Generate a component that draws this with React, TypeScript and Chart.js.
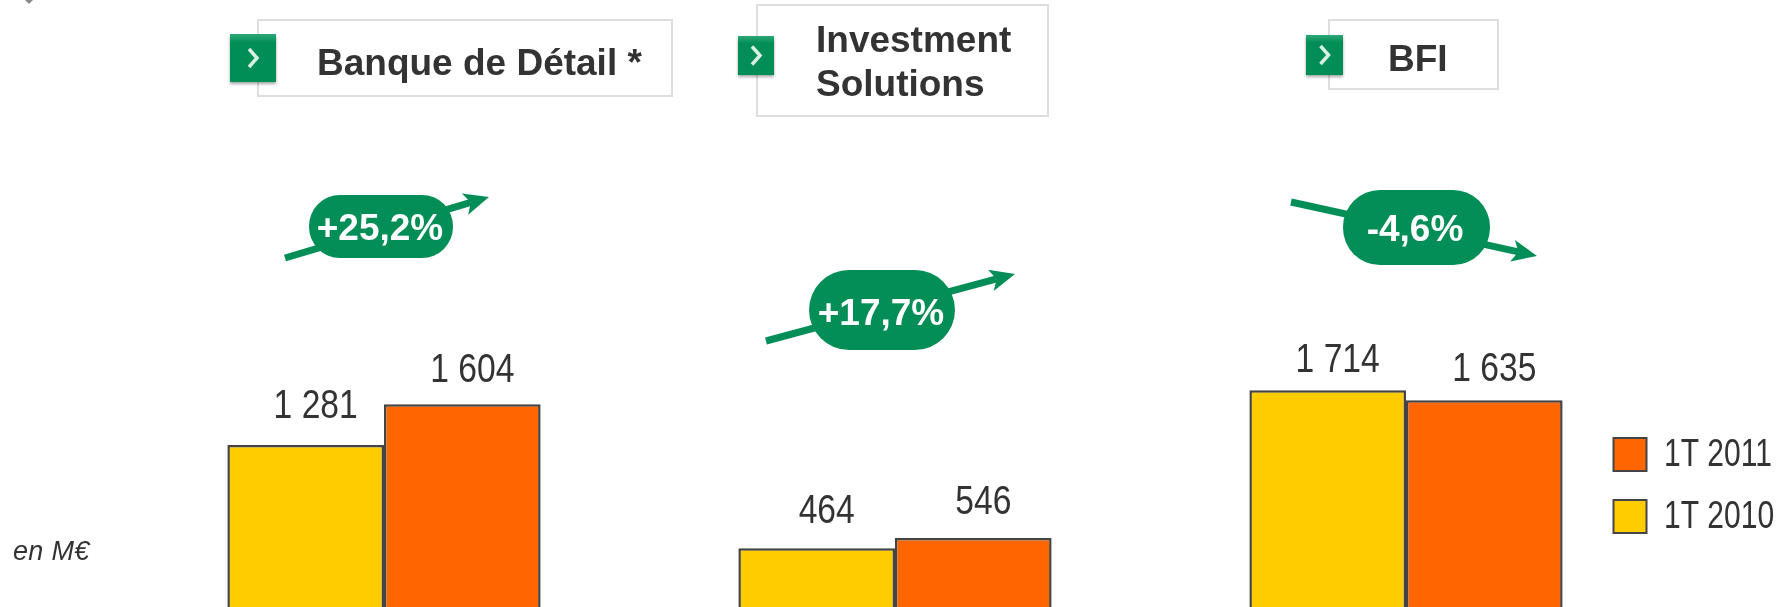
import React, { useEffect, useRef } from "react";
import { Chart, registerables } from "chart.js";

Chart.register(...registerables);

const categories = ["Banque de Détail *", "Investment Solutions", "BFI"];
const headerLines = [["Banque de Détail *"], ["Investment", "Solutions"], ["BFI"]];
const seriesNames = ["1T 2010", "1T 2011"];
const values2010 = [1281, 464, 1714];
const values2011 = [1604, 546, 1635];
const changes = ["+25,2%", "+17,7%", "-4,6%"];
const unitLabel = "en M€";

const W = 1789;
const H = 607;
const GREEN = "#038e57";
const INK = "#333333";
const SANS = '"Liberation Sans", Arial, sans-serif';

// label gap above each bar, by series then category
const labelGaps = [[27, 25, 18], [22, 24, 19]];

const headerLayout = [
  { box: [258, 20, 414, 76], sq: [230, 34, 46, 48], textX: 317, baselines: [75] },
  { box: [757, 5, 291, 111], sq: [738, 36, 36, 39], textX: 816, baselines: [52, 96] },
  { box: [1329, 20, 169, 69], sq: [1306, 35, 37, 40], textX: 1388, baselines: [71] },
];
const pillLayout = [
  { rect: [309, 195, 144, 63], r: 31, textX: 380, baseline: 240, arrow: [285, 258, 489, 197] },
  { rect: [809, 270, 146, 80], r: 40, textX: 881, baseline: 325, arrow: [766, 341, 1015, 274] },
  { rect: [1343, 190, 147, 75], r: 37, textX: 1415, baseline: 241, arrow: [1291, 202, 1537, 256] },
];
const legendLayout = { boxX: 1613.5, boxSize: 33, textX: 1664, rowTops: [438, 500], font: 38 };

function condensedText(ctx: any, txt: string, x: number, y: number, align: "left" | "center", factor: number) {
  ctx.save();
  ctx.translate(x, y);
  ctx.scale(factor, 1);
  ctx.textAlign = align;
  ctx.textBaseline = "alphabetic";
  ctx.fillText(txt, 0, 0);
  ctx.restore();
}

const valueLabels = {
  id: "valueLabels",
  afterDatasetsDraw(chart: any) {
    const { ctx } = chart;
    ctx.save();
    ctx.font = `41px ${SANS}`;
    ctx.fillStyle = INK;
    chart.data.datasets.forEach((ds: any, di: number) => {
      chart.getDatasetMeta(di).data.forEach((bar: any, i: number) => {
        const txt = String(ds.data[i]).replace(/(\d)(\d{3})$/, "$1 $2");
        condensedText(ctx, txt, bar.x + 10, bar.y - labelGaps[di][i], "center", 0.82);
      });
    });
    ctx.restore();
  },
};

// Legend keys read their names and colours from the chart's datasets, newest first.
const sideLegend = {
  id: "sideLegend",
  afterDraw(chart: any) {
    const { ctx } = chart;
    const { boxX, boxSize, textX, rowTops, font } = legendLayout;
    const items = [...chart.data.datasets].reverse();
    ctx.save();
    items.forEach((ds: any, i: number) => {
      const top = rowTops[i];
      ctx.fillStyle = ds.backgroundColor;
      ctx.strokeStyle = ds.borderColor;
      ctx.lineWidth = 2;
      ctx.fillRect(boxX, top, boxSize, boxSize);
      ctx.strokeRect(boxX, top, boxSize, boxSize);
      ctx.fillStyle = INK;
      ctx.font = `${font}px ${SANS}`;
      condensedText(ctx, ds.label, textX, top + 28, "left", 0.79);
    });
    ctx.restore();
  },
};

function Arrow({ a }: { a: number[] }) {
  const [x1, y1, x2, y2] = a;
  const len = Math.hypot(x2 - x1, y2 - y1);
  const ux = (x2 - x1) / len;
  const uy = (y2 - y1) / len;
  const hl = 25;
  const hw = 11;
  const bx = x2 - ux * hl;
  const by = y2 - uy * hl;
  const nx = -uy;
  const ny = ux;
  return (
    <g>
      <line x1={x1} y1={y1} x2={bx + ux * 6} y2={by + uy * 6} stroke={GREEN} strokeWidth={7} />
      <polygon
        points={`${x2},${y2} ${bx + nx * hw},${by + ny * hw} ${bx + ux * 6},${by + uy * 6} ${bx - nx * hw},${by - ny * hw}`}
        fill={GREEN}
      />
    </g>
  );
}

export default function App() {
  const ref = useRef<HTMLCanvasElement>(null);

  useEffect(() => {
    const chart = new Chart(ref.current as HTMLCanvasElement, {
      type: "bar",
      data: {
        labels: categories,
        datasets: [
          {
            label: seriesNames[0],
            data: values2010,
            backgroundColor: "#ffcc00",
            borderColor: "#444444",
            borderWidth: 2.5,
          },
          {
            label: seriesNames[1],
            data: values2011,
            backgroundColor: "#ff6600",
            borderColor: "#444444",
            borderWidth: 2.5,
          },
        ],
      },
      options: {
        animation: false,
        responsive: false,
        devicePixelRatio: 1,
        layout: { padding: { left: 128.5, right: 127.5, top: 0, bottom: 0 } },
        datasets: { bar: { categoryPercentage: 0.613, barPercentage: 1 } },
        scales: {
          x: { display: false },
          y: { display: false, min: 0, max: 4802 },
        },
        plugins: {
          tooltip: { enabled: false },
          title: { display: false },
          legend: { display: false },
        },
      },
      plugins: [valueLabels, sideLegend],
    } as any);
    return () => chart.destroy();
  }, []);

  return (
    <div style={{ position: "absolute", left: 0, top: 0, width: W, height: H, background: "#fff", overflow: "hidden" }}>
      <canvas ref={ref} width={W} height={H} style={{ position: "absolute", left: 0, top: 0 }} />
      <svg width={W} height={H} style={{ position: "absolute", left: 0, top: 0 }}>
        <defs>
          <linearGradient id="sq" x1="0" y1="0" x2="0" y2="1">
            <stop offset="0" stopColor="#2fa877" />
            <stop offset="0.18" stopColor={GREEN} />
            <stop offset="1" stopColor={GREEN} />
          </linearGradient>
          <filter id="soft" x="-20%" y="-20%" width="140%" height="140%">
            <feDropShadow dx="0" dy="2" stdDeviation="1.5" floodColor="#000" floodOpacity="0.35" />
          </filter>
        </defs>
        <polygon points="25,0 33,0 29,4" fill="#8a8a8a" />
        {headerLayout.map((h, i) => {
          const [bx, by, bw, bh] = h.box;
          const [sx, sy, sw, sh] = h.sq;
          const cx = sx + sw / 2;
          const cy = sy + sh / 2;
          return (
            <g key={categories[i]}>
              <rect x={bx} y={by} width={bw} height={bh} fill="#fff" stroke="#dedede" strokeWidth={2} />
              <rect x={sx} y={sy} width={sw} height={sh} fill="url(#sq)" filter="url(#soft)" />
              <polyline
                points={`${cx - 4},${cy - 9} ${cx + 4},${cy} ${cx - 4},${cy + 9}`}
                fill="none"
                stroke="#d8efe4"
                strokeWidth={3.5}
              />
              {headerLines[i].map((t, j) => (
                <text key={t} x={h.textX} y={h.baselines[j]} fontFamily={SANS} fontWeight={700} fontSize={37} fill={INK}>
                  {t}
                </text>
              ))}
            </g>
          );
        })}
        {pillLayout.map((p, i) => {
          const [x, y, w, h] = p.rect;
          return (
            <g key={changes[i]}>
              <Arrow a={p.arrow} />
              <rect x={x} y={y} width={w} height={h} rx={p.r} ry={p.r} fill={GREEN} />
              <text x={p.textX} y={p.baseline} textAnchor="middle" fontFamily={SANS} fontWeight={700} fontSize={37} fill="#fff">
                {changes[i]}
              </text>
            </g>
          );
        })}
        <text x={13} y={560} fontFamily={SANS} fontStyle="italic" fontSize={27} letterSpacing={0.3} fill={INK}>
          {unitLabel}
        </text>
      </svg>
    </div>
  );
}
